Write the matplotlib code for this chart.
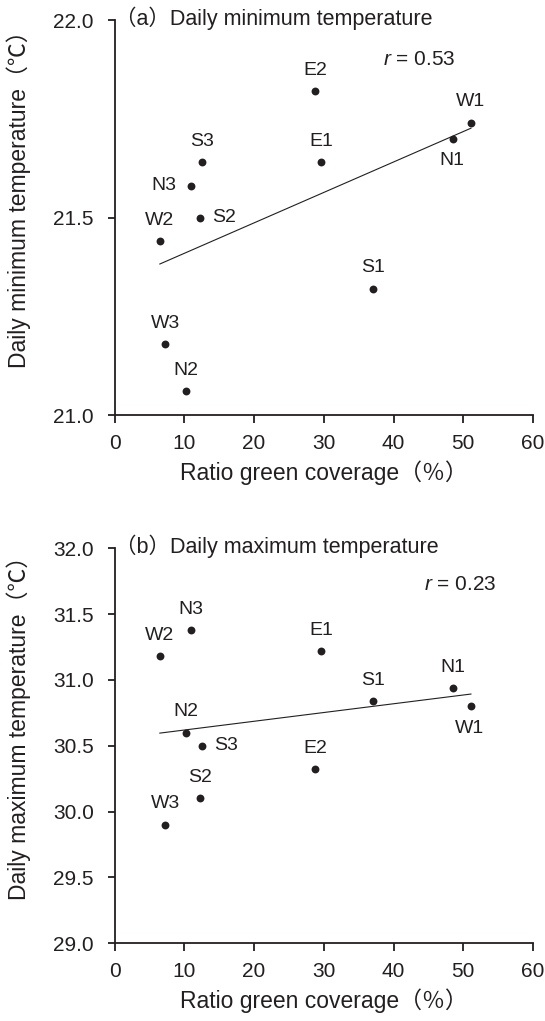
import numpy as np
import matplotlib
matplotlib.use("Agg")
import matplotlib.pyplot as plt

plt.rcParams['font.family'] = ['Liberation Sans', 'Noto Sans CJK JP', 'DejaVu Sans']
plt.rcParams['mathtext.fontset'] = 'custom'
plt.rcParams['mathtext.it'] = 'Liberation Sans:italic'
plt.rcParams['mathtext.rm'] = 'Liberation Sans'

# ---- data ----
sites = ["W1", "N1", "S1", "S2", "S3", "N3", "N2", "W2", "W3", "E1", "E2"]
green_ratio = [51.1, 48.5, 37.0, 12.3, 12.6, 11.0, 10.3, 6.5, 7.3, 29.6, 28.8]
tmin = [21.74, 21.70, 21.32, 21.50, 21.64, 21.58, 21.06, 21.44, 21.18, 21.64, 21.82]
tmax = [30.80, 30.94, 30.84, 30.10, 30.50, 31.38, 30.60, 31.18, 29.90, 31.22, 30.32]

titles = ["（a）Daily minimum temperature", "（b）Daily maximum temperature"]
r_texts = ["0.53", "0.23"]
ylabels = ["Daily minimum temperature（℃）", "Daily maximum temperature（℃）"]
xlabel = "Ratio green coverage（％）"
yticks_a = [21.0, 21.5, 22.0]
yticks_b = [29.0, 29.5, 30.0, 30.5, 31.0, 31.5, 32.0]
xticks = [0, 10, 20, 30, 40, 50, 60]

# label placement (style)
place_a = {"W1": "above", "N1": "below", "S1": "above", "S2": "right", "S3": "above",
           "N3": "left", "N2": "above", "W2": "above", "W3": "above", "E1": "above", "E2": "above"}
place_b = {"W1": "below", "N1": "above", "S1": "above", "S2": "above", "S3": "right",
           "N3": "above", "N2": "above", "W2": "above", "W3": "above", "E1": "above", "E2": "above"}

offsets = {"above": (0, 15, "center", "center"),
           "below": (-1, -16, "center", "center"),
           "left": (-20, 0, "center", "center"),
           "right": (17, 0, "center", "center")}

TXT = "#231f20"
fig = plt.figure(figsize=(5.45, 10.21), dpi=100)

def panel(rect, y, ylim, yticks, title, rtxt, ylabel, place, rpos):
    ax = fig.add_axes(rect)
    ax.scatter(green_ratio, y, s=32, color=TXT, zorder=3, linewidths=0)
    k, b = np.polyfit(green_ratio, y, 1)
    xl = np.array([min(green_ratio), max(green_ratio)])
    ax.plot(xl, k * xl + b, color=TXT, lw=0.8)
    for s, xv, yv in zip(sites, green_ratio, y):
        dx, dy, ha, va = offsets[place[s]]
        ax.annotate(s, (xv, yv), xytext=(dx, dy), textcoords='offset points',
                    ha=ha, va=va, fontsize=14, color=TXT)
    ax.set_xlim(0, 60)
    ax.set_ylim(*ylim)
    ax.set_xticks(xticks)
    ax.set_yticks(yticks)
    ax.set_yticklabels([f"{v:.1f}" for v in yticks])
    ax.tick_params(direction='out', length=5.4, width=1.3, colors=TXT, labelsize=15)
    ax.tick_params(axis='y', pad=9.5)
    ax.tick_params(axis='x', pad=8)
    for sp in ['top', 'right']:
        ax.spines[sp].set_visible(False)
    for sp in ['left', 'bottom']:
        ax.spines[sp].set_color(TXT)
        ax.spines[sp].set_linewidth(1.3)
    ax.text(0.0, 1.005, title, transform=ax.transAxes, ha='left', va='center',
            fontsize=15.5, color=TXT)
    ax.text(rpos[0], rpos[1], "$r$ = " + rtxt, transform=ax.transAxes, ha='left', va='center',
            fontsize=15, color=TXT)
    ax.set_xlabel(xlabel, fontsize=16.5, color=TXT)
    ax.set_ylabel(ylabel, fontsize=16.5, color=TXT)
    ax.xaxis.set_label_coords(0.5, -0.115)
    ax.yaxis.set_label_coords(-0.2, 0.56)
    return ax

panel([0.2101, 0.5935, 0.7679, 0.3869], tmin, (21.0, 22.0), yticks_a, titles[0], r_texts[0],
      ylabels[0], place_a, (0.642, 0.899))
panel([0.2101, 0.0761, 0.7679, 0.3869], tmax, (29.0, 32.0), yticks_b, titles[1], r_texts[1],
      ylabels[1], place_b, (0.74, 0.909))

fig.savefig("out.png", dpi=100)
